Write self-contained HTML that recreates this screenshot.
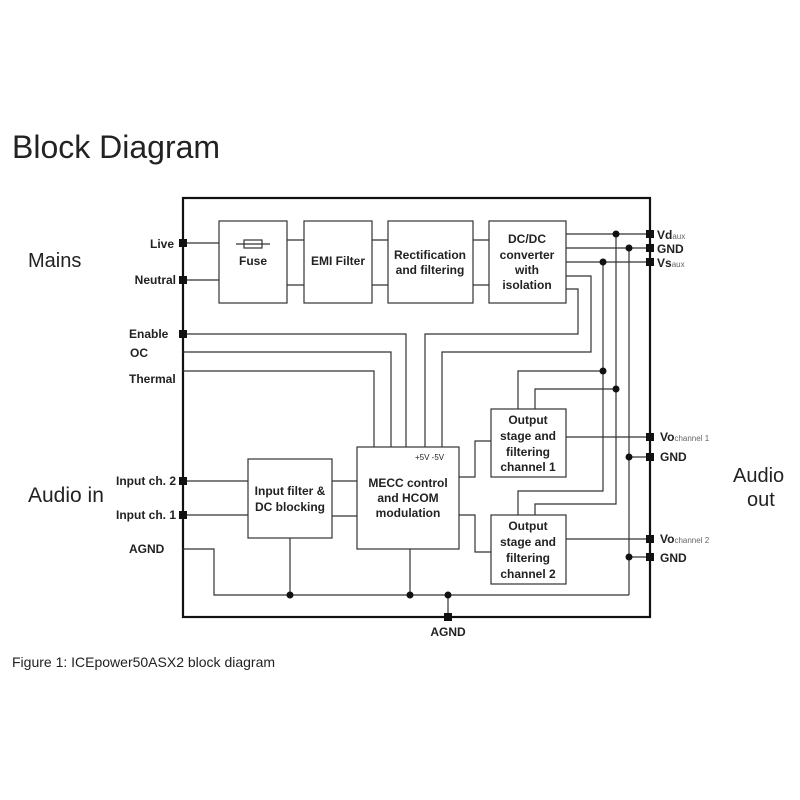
<!DOCTYPE html>
<html><head><style>
html,body{margin:0;padding:0;background:#fff;}
svg{display:block;}
.b{font-family:"Liberation Sans",Arial,sans-serif;font-weight:bold;font-size:12px;fill:#222;}
.l{font-family:"Liberation Sans",Arial,sans-serif;fill:#222;}
</style></head><body>
<svg width="800" height="800" viewBox="0 0 800 800" xmlns="http://www.w3.org/2000/svg">
<rect width="800" height="800" fill="#fff"/>
<text x="12" y="158" class="l" font-size="32" fill="#333">Block Diagram</text>
<text x="28" y="267" class="l" font-size="20">Mains</text>
<text x="28" y="502" class="l" font-size="21">Audio in</text>
<text x="733" y="482" class="l" font-size="20">Audio</text>
<text x="747" y="506" class="l" font-size="20">out</text>
<text x="12" y="667" class="l" font-size="14" fill="#555">Figure 1: ICEpower50ASX2 block diagram</text>

<g fill="none" stroke="#333" stroke-width="1.2">
<rect x="183" y="198" width="467" height="419" stroke-width="2.2" stroke="#111"/>
<rect x="219" y="221" width="68" height="82"/>
<rect x="304" y="221" width="68" height="82"/>
<rect x="388" y="221" width="85" height="82"/>
<rect x="489" y="221" width="77" height="82"/>
<line x1="236" y1="244" x2="270" y2="244"/>
<rect x="244" y="240" width="18" height="8"/>
<path d="M183 243H219M183 280H219M287 240H304M287 285H304M372 240H388M372 285H388M473 240H489M473 285H489"/>
<path d="M566 234H650M566 248H650M566 262H650"/>
<path d="M603 262V491H518V515M616 234V504H535V515M629 248V595"/>
<path d="M603 371H518V409M616 389H535V409"/>
<path d="M566 276H591V352H442V447M566 289H578V334H425V447"/>
<path d="M183 334H406V447M183 352H391V447M183 371H374V447"/>
<rect x="248" y="459" width="84" height="79"/>
<rect x="357" y="447" width="102" height="102"/>
<rect x="491" y="409" width="75" height="68"/>
<rect x="491" y="515" width="75" height="69"/>
<path d="M183 481H248M183 515H248M332 481H357M332 516H357"/>
<path d="M459 477H475V441H491M459 515H475V552H491"/>
<path d="M566 437H650M629 457H650M566 539H650M629 557H650"/>
<path d="M183 549H214V595H629M290 538V595M410 549V595M448 595V617"/>
</g>
<g fill="#111">
<circle cx="616" cy="234" r="3.5"/><circle cx="629" cy="248" r="3.5"/><circle cx="603" cy="262" r="3.5"/>
<circle cx="603" cy="371" r="3.5"/><circle cx="616" cy="389" r="3.5"/>
<circle cx="629" cy="457" r="3.5"/><circle cx="629" cy="557" r="3.5"/>
<circle cx="290" cy="595" r="3.5"/><circle cx="410" cy="595" r="3.5"/><circle cx="448" cy="595" r="3.5"/>
<rect x="179" y="239" width="8" height="8"/><rect x="179" y="276" width="8" height="8"/>
<rect x="179" y="330" width="8" height="8"/><rect x="179" y="477" width="8" height="8"/><rect x="179" y="511" width="8" height="8"/>
<rect x="646" y="230" width="8" height="8"/><rect x="646" y="244" width="8" height="8"/><rect x="646" y="258" width="8" height="8"/>
<rect x="646" y="433" width="8" height="8"/><rect x="646" y="453" width="8" height="8"/>
<rect x="646" y="535" width="8" height="8"/><rect x="646" y="553" width="8" height="8"/>
<rect x="444" y="613" width="8" height="8"/>
</g>
<g class="b">
<text x="253" y="265" text-anchor="middle">Fuse</text>
<text x="338" y="265" text-anchor="middle">EMI Filter</text>
<text x="430" y="259" text-anchor="middle">Rectification</text>
<text x="430" y="274" text-anchor="middle">and filtering</text>
<text x="527" y="243" text-anchor="middle">DC/DC</text>
<text x="527" y="259" text-anchor="middle">converter</text>
<text x="527" y="274" text-anchor="middle">with</text>
<text x="527" y="289" text-anchor="middle">isolation</text>
<text x="290" y="495" text-anchor="middle">Input filter &amp;</text>
<text x="290" y="511" text-anchor="middle">DC blocking</text>
<text x="408" y="487" text-anchor="middle">MECC control</text>
<text x="408" y="502" text-anchor="middle">and HCOM</text>
<text x="408" y="517" text-anchor="middle">modulation</text>
<text x="528" y="424" text-anchor="middle">Output</text>
<text x="528" y="440" text-anchor="middle">stage and</text>
<text x="528" y="456" text-anchor="middle">filtering</text>
<text x="528" y="471" text-anchor="middle">channel 1</text>
<text x="528" y="530" text-anchor="middle">Output</text>
<text x="528" y="546" text-anchor="middle">stage and</text>
<text x="528" y="562" text-anchor="middle">filtering</text>
<text x="528" y="578" text-anchor="middle">channel 2</text>
<text x="174" y="248" text-anchor="end">Live</text>
<text x="176" y="284" text-anchor="end">Neutral</text>
<text x="129" y="338">Enable</text>
<text x="130" y="357">OC</text>
<text x="129" y="383">Thermal</text>
<text x="116" y="485">Input ch. 2</text>
<text x="116" y="519">Input ch. 1</text>
<text x="129" y="553">AGND</text>
<text x="448" y="636" text-anchor="middle">AGND</text>
<text x="657" y="239">Vd<tspan font-size="8" font-weight="normal" fill="#666">aux</tspan></text>
<text x="657" y="253">GND</text>
<text x="657" y="267">Vs<tspan font-size="8" font-weight="normal" fill="#666">aux</tspan></text>
<text x="660" y="441">Vo<tspan font-size="8" font-weight="normal" fill="#666">channel 1</tspan></text>
<text x="660" y="461">GND</text>
<text x="660" y="543">Vo<tspan font-size="8" font-weight="normal" fill="#666">channel 2</tspan></text>
<text x="660" y="562">GND</text>
</g>
<text x="415" y="460" class="l" font-size="8">+5V -5V</text>
</svg>
</body></html>
